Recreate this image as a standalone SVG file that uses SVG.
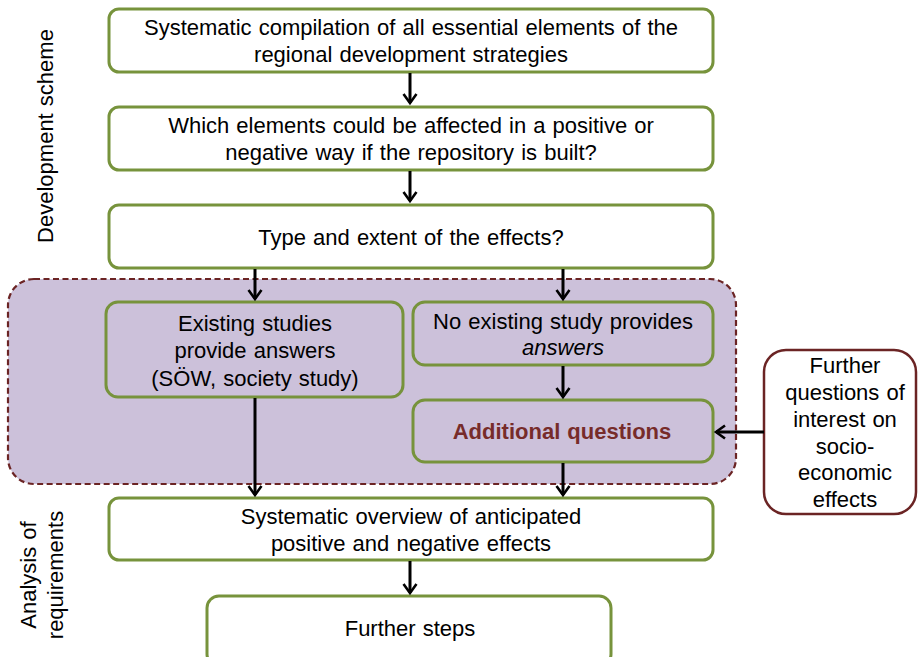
<svg xmlns="http://www.w3.org/2000/svg" width="918" height="657" viewBox="0 0 918 657">
  <defs>
    <marker id="arrow" markerUnits="userSpaceOnUse" markerWidth="20" markerHeight="20" viewBox="-12 -10 14 20" refX="0" refY="0" orient="auto">
      <path d="M-9,-6.5 L0,0 L-9,6.5" fill="none" stroke="#000" stroke-width="2.6" stroke-linejoin="miter"/>
    </marker>
    <style>
      text { font-family: "Liberation Sans", Arial, sans-serif; font-size: 22px; fill: #000; word-spacing: 1px; }
      .step { fill: #fff; stroke: #77933C; stroke-width: 3; }
      .inner { fill: none; stroke: #77933C; stroke-width: 3; }
      .group { fill: #CCC1DA; stroke: #6B2424; stroke-width: 2.2; stroke-dasharray: 6 3.5; }
      .input { fill: #fff; stroke: #6B2424; stroke-width: 2.5; }
      .conn { stroke: #000; stroke-width: 3; fill: none; marker-end: url(#arrow); }
      .mid { text-anchor: middle; }
      .accent { fill: #772C2A; font-weight: bold; }
    </style>
  </defs>

  <rect width="918" height="657" fill="#fff"/>

  <!-- phase labels -->
  <g id="phase-labels">
    <text class="mid" transform="translate(53,136) rotate(-90)">Development scheme</text>
    <text class="mid" transform="translate(42,377) rotate(-90)">Additional</text>
    <text class="mid" transform="translate(67,377) rotate(-90)">questions</text>
    <text class="mid" transform="translate(36,575) rotate(-90)">Analysis of</text>
    <text class="mid" transform="translate(63,575) rotate(-90)">requirements</text>
  </g>

  <!-- dashed area holding the additional-question steps -->
  <g id="additional-area">
    <rect class="group" x="8" y="279" width="728" height="205" rx="26" ry="26"/>
  </g>

  <g id="compilation">
    <rect class="step" x="109" y="9" width="604" height="63" rx="10" ry="10"/>
    <text class="mid" x="411" y="35">Systematic compilation of all essential elements of the</text>
    <text class="mid" x="411" y="62">regional development strategies</text>
  </g>

  <g id="affected-elements">
    <rect class="step" x="109" y="107" width="604" height="63" rx="10" ry="10"/>
    <text class="mid" x="411" y="133">Which elements could be affected in a positive or</text>
    <text class="mid" x="411" y="160">negative way if the repository is built?</text>
  </g>

  <g id="type-extent">
    <rect class="step" x="109" y="205" width="604" height="63" rx="10" ry="10"/>
    <text class="mid" x="411" y="245">Type and extent of the effects?</text>
  </g>

  <g id="existing-studies">
    <rect class="inner" x="106" y="302" width="297" height="95" rx="12" ry="12"/>
    <text class="mid" x="255" y="331">Existing studies</text>
    <text class="mid" x="255" y="358">provide answers</text>
    <text class="mid" x="255" y="386">(SÖW, society study)</text>
  </g>

  <g id="no-existing-study">
    <rect class="inner" x="413" y="302" width="300" height="63" rx="12" ry="12"/>
    <text class="mid" x="563" y="329">No existing study provides</text>
    <text class="mid" x="563" y="355" font-style="italic">answers</text>
  </g>

  <g id="additional-questions">
    <rect class="inner" x="413" y="400" width="300" height="62" rx="12" ry="12"/>
    <text class="mid accent" x="562" y="439">Additional questions</text>
  </g>

  <g id="further-questions">
    <rect class="input" x="764" y="350" width="152" height="164" rx="22" ry="22"/>
    <text class="mid" x="845" y="373">Further</text>
    <text class="mid" x="845" y="400">questions of</text>
    <text class="mid" x="845" y="427">interest on</text>
    <text class="mid" x="845" y="454">socio-</text>
    <text class="mid" x="845" y="480">economic</text>
    <text class="mid" x="845" y="507">effects</text>
  </g>

  <g id="overview">
    <rect class="step" x="109" y="498" width="604" height="62" rx="10" ry="10"/>
    <text class="mid" x="411" y="524">Systematic overview of anticipated</text>
    <text class="mid" x="411" y="551">positive and negative effects</text>
  </g>

  <g id="further-steps">
    <rect class="step" x="207" y="596" width="404" height="70" rx="12" ry="12"/>
    <text class="mid" x="410" y="636">Further steps</text>
  </g>

  <g id="connectors">
    <line class="conn" x1="410" y1="73" x2="410" y2="103"/>
    <line class="conn" x1="410" y1="171" x2="410" y2="201"/>
    <line class="conn" x1="255" y1="269" x2="255" y2="299"/>
    <line class="conn" x1="563" y1="269" x2="563" y2="299"/>
    <line class="conn" x1="563" y1="366" x2="563" y2="397"/>
    <line class="conn" x1="764" y1="432" x2="716" y2="432"/>
    <line class="conn" x1="255" y1="398" x2="255" y2="495"/>
    <line class="conn" x1="563" y1="463" x2="563" y2="495"/>
    <line class="conn" x1="410" y1="561" x2="410" y2="593"/>
  </g>
</svg>
